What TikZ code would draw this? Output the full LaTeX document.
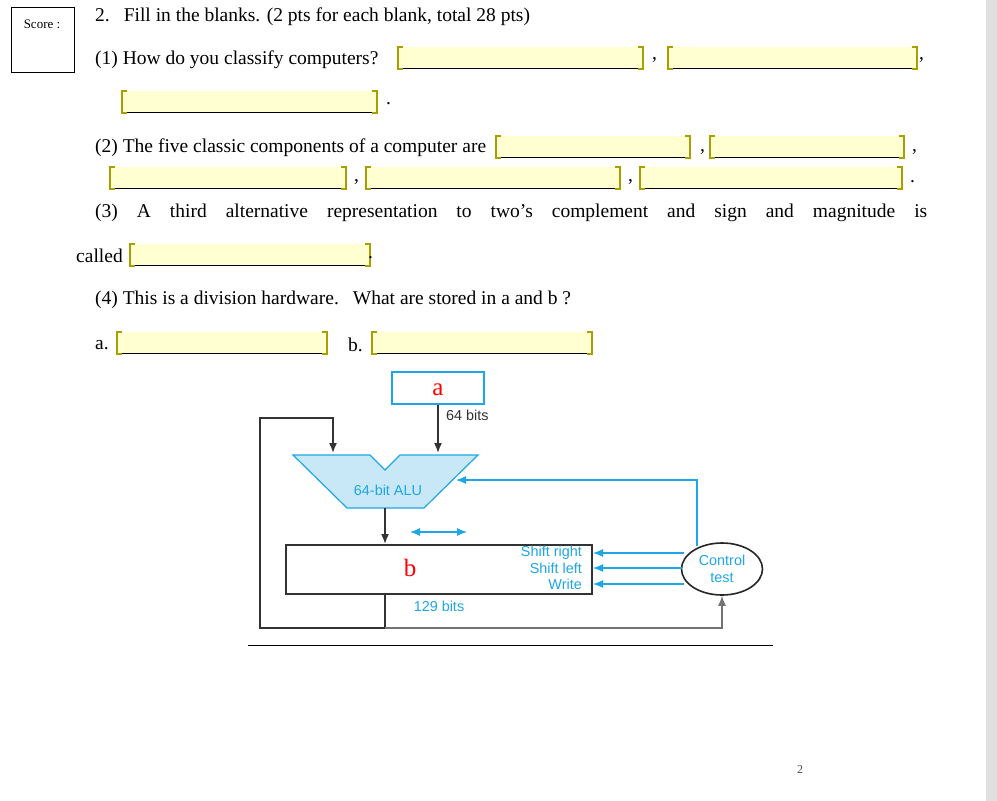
\documentclass[tikz,border=0pt]{standalone}
\usepackage{fontspec}
\usetikzlibrary{arrows.meta,shapes.geometric}
\setmainfont{Liberation Serif}
\newfontfamily\arialf{Liberation Sans}
\begin{document}
\begin{tikzpicture}[x=1pt,y=-1pt,
  txt/.style={anchor=west,inner sep=0pt,font=\fontsize{19.5}{22}\selectfont},
  lbl/.style={inner sep=0pt,font=\arialf\fontsize{14.4}{15}\selectfont},
  blk/.style={draw=black!80,line width=1.6pt},
  arr/.style={-{Latex[length=10pt,width=8pt]}}]
\definecolor{cyanl}{HTML}{1FA6E6}
\definecolor{alufill}{HTML}{C8E8F8}
\definecolor{blfill}{HTML}{FFFFD2}
\definecolor{olive2}{HTML}{A8A000}
\useasboundingbox (0,0) rectangle (997,801);
\fill[white] (0,0) rectangle (997,801);
\fill[black!12] (986,0) rectangle (997,801);
\newcommand{\blnk}[3]{%
  \fill[blfill] (#1,#3-11) rectangle (#2,#3+11);
  \draw[black,line width=0.8pt] (#1+3,#3+10) -- (#2-3,#3+10);
  \draw[olive2,line width=1.6pt] (#1+5,#3-11) -- (#1,#3-11) -- (#1,#3+11) -- (#1+5,#3+11);
  \draw[olive2,line width=1.6pt] (#2-5,#3-11) -- (#2,#3-11) -- (#2,#3+11) -- (#2-5,#3+11);}
% score box
\node[draw,line width=0.8pt,minimum width=63pt,minimum height=65pt,inner sep=0pt] (score) at (42.5,39.5) {};
\node[inner sep=0pt,font=\fontsize{13}{14}\selectfont] (scoret) at (42,24) {Score :};
\node[txt] (q2) at (95,17) {2.\hspace{14pt}Fill in the blanks. (2 pts for each blank, total 28 pts)};
\node[txt] (q1) at (95,60) {(1) How do you classify computers?};
\blnk{398}{643}{58}\node[txt] (c1) at (652,60) {,};
\blnk{668}{917}{58}\node[txt] (c2) at (919,60) {,};
\blnk{122}{377}{102}\node[txt] (c3) at (386,104) {.};
\node[txt] (q2b) at (95,148) {(2) The five classic components of a computer are};
\blnk{496}{690}{147}\node[txt] (c4) at (700,152) {,};
\blnk{710}{904}{147}\node[txt] (c5) at (912,152) {,};
\blnk{110}{346}{178}\node[txt] (c6) at (354,182) {,};
\blnk{366}{620}{178}\node[txt] (c7) at (628,182) {,};
\blnk{640}{902}{178}\node[txt] (c8) at (910,182) {.};
\node[txt] (q3) at (95,213) {\makebox[832pt][s]{(3)\hfill A\hfill third\hfill alternative\hfill representation\hfill to\hfill two’s\hfill complement\hfill and\hfill sign\hfill and\hfill magnitude\hfill is}};
\node[txt] (q3b) at (76,256) {called};
\blnk{130}{370}{255}\node[txt] (c9) at (368,258) {.};
\node[txt] (q4) at (95,300) {(4) This is a division hardware.\hspace{14pt}What are stored in a and b ?};
\node[txt] (la) at (95,345) {a.};
\blnk{117}{327}{343}
\node[txt] (lb) at (348,345) {b.};
\blnk{372}{592}{343}
% diagram
\node[draw=cyanl,line width=1.2pt,minimum width=92pt,minimum height=32pt,inner sep=0pt] (a) at (438,388) {};
\node[inner sep=0pt,text=red,font=\fontsize{25}{25}\selectfont] (at) at (438,390) {a};
\node[lbl,text=black!80,anchor=west] (b64) at (446,415) {64 bits};
\draw[fill=alufill,draw=cyanl,line width=1.2pt] (293,455) -- (370,455) -- (385,470) -- (400,455) -- (478,455) -- (424,508) -- (347,508) -- cycle;
\node[lbl,text=cyanl] (alu) at (388,490) {64-bit ALU};
\coordinate (aluin1) at (333,453);
\coordinate (aluin2) at (438,453);
\coordinate (aluout) at (385,508);
\draw[blk,arr] (a.south) -- (aluin2);
\draw[blk,arr] (385,628) -- (260,628) -- (260,418) -- (333,418) -- (aluin1);
\node[draw=black!80,line width=1.6pt,minimum width=306pt,minimum height=49pt,inner sep=0pt] (b) at (439,569.5) {};
\node[inner sep=0pt,text=red,font=\fontsize{25}{25}\selectfont] (bt) at (410,568) {b};
\draw[blk,arr] (aluout) -- (385,544);
\draw[cyanl,line width=1.2pt,{Latex[length=10pt,width=8pt]}-{Latex[length=10pt,width=8pt]}] (410,532) -- (467,532);
\node[lbl,text=cyanl,anchor=east] (sr) at (582,553) {Shift right};
\node[lbl,text=cyanl,anchor=east] (sl) at (582,568) {Shift left};
\node[lbl,text=cyanl,anchor=east] (wr) at (582,584) {Write};
\node[draw=black!85,line width=1.6pt,ellipse,minimum width=81pt,minimum height=52pt,inner sep=0pt,align=center,font=\arialf\fontsize{14.4}{17}\selectfont,text=cyanl] (ctl) at (722,569) {Control\\test};
\draw[cyanl,line width=1.2pt,arr] (684,553) -- (593,553);
\draw[cyanl,line width=1.2pt,arr] (682,568) -- (593,568);
\draw[cyanl,line width=1.2pt,arr] (684,584) -- (593,584);
\draw[cyanl,line width=1.2pt,arr] (697,546) -- (697,480) -- (456,480);
\node[lbl,text=cyanl] (b129) at (439,606) {129 bits};
\draw[blk] (385,594) -- (385,628);
\draw[black!55,line width=1.2pt,arr] (385,628) -- (ctl.south |- 0,628) -- (ctl.south);
\draw[black,line width=0.8pt] (248,645) -- (773,645);
\node[inner sep=0pt,font=\fontsize{12}{13}\selectfont,text=black!70] (pg) at (800,770) {2};
\end{tikzpicture}
\end{document}
